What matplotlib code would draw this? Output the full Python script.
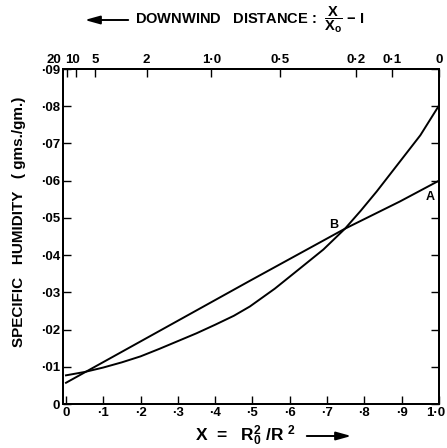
import matplotlib
matplotlib.use("Agg")
import matplotlib.pyplot as plt
from matplotlib.patches import FancyArrowPatch
import matplotlib.transforms as mtransforms

# ---- data ----
curve_x = [0.0, 0.05, 0.1, 0.15, 0.2, 0.25, 0.3, 0.35, 0.4, 0.45, 0.493, 0.56,
           0.627, 0.69, 0.748, 0.79, 0.833, 0.895, 0.95, 1.0]
curve_y = [0.0077, 0.0086, 0.0098, 0.0112, 0.0128, 0.0148, 0.0169, 0.0190, 0.0213,
           0.0237, 0.0262, 0.0310, 0.0364, 0.0415, 0.0471, 0.0519, 0.0571, 0.0651,
           0.0722, 0.0802]

line_x = [0.0, 0.493, 0.748, 0.895, 1.0]
line_y = [0.0057, 0.0331, 0.0471, 0.0544, 0.0600]

x_ticks = [0.0, 0.1, 0.2, 0.3, 0.4, 0.5, 0.6, 0.7, 0.8, 0.9, 1.0]
x_ticklabels = ["0", "·1", "·2", "·3", "·4", "·5", "·6", "·7", "·8", "·9", "1·0"]
y_ticks = [0.0, 0.01, 0.02, 0.03, 0.04, 0.05, 0.06, 0.07, 0.08, 0.09]
y_ticklabels = ["0", "·01", "·02", "·03", "·04", "·05", "·06", "·07", "·08", "·09"]

# downwind distance scale (top axis): labels and their X positions
top_labels = ["20", "10", "5", "2", "1·0", "0·5", "0·2", "0·1", "0"]
top_pos = [0.004, 0.027, 0.078, 0.216, 0.39, 0.574, 0.777, 0.874, 1.0]

plt.rcParams['font.family'] = ['Liberation Sans', 'DejaVu Sans']
plt.rcParams['mathtext.fontset'] = 'custom'
plt.rcParams['mathtext.rm'] = 'Liberation Sans:bold'
plt.rcParams['mathtext.it'] = 'Liberation Sans:bold'
plt.rcParams['mathtext.bf'] = 'Liberation Sans:bold'

fig = plt.figure(figsize=(4.47, 4.48), dpi=100)
L, R, B, T = 63, 439, 404, 69
W, H = 447, 448
ax = fig.add_axes([L / W, (H - B) / H, (R - L) / W, (B - T) / H])
ax.set_xlim(-0.008, 1.0)
ax.set_ylim(0, 0.09)

ax.plot(curve_x, curve_y, color='black', lw=1.4)
ax.plot(line_x, line_y, color='black', lw=1.4)

ax.text(0.976, 0.0557, "A", fontsize=9, fontweight='bold', ha='center', va='center')
ax.text(0.718, 0.0480, "B", fontsize=9, fontweight='bold', ha='center', va='center')

for s in ax.spines.values():
    s.set_linewidth(1.4)

tick_font = dict(fontsize=9.5, fontweight='bold')
ax.set_xticks(x_ticks)
ax.set_xticklabels(x_ticklabels, **tick_font)
ax.set_yticks(y_ticks)
ax.set_yticklabels(y_ticklabels, **tick_font)
ax.tick_params(axis='both', direction='in', length=6, width=1, pad=2)
ax.tick_params(axis='y', right=True, labelright=False)
last = ax.get_xticklabels()[-1]
last.set_transform(last.get_transform() +
                   mtransforms.ScaledTranslation(-3 / 100, 0, fig.dpi_scale_trans))

axt = ax.twiny()
axt.set_xlim(ax.get_xlim())
axt.set_xticks(top_pos)
axt.set_xticklabels([""] * 2 + top_labels[2:], **tick_font)
axt.tick_params(axis='x', direction='in', length=6, width=1, pad=2)
for s in axt.spines.values():
    s.set_linewidth(1.4)
# squeezed labels at the left of the top axis
ax.text(-0.024, 1.009, top_labels[0], transform=ax.transAxes, ha='center',
        va='bottom', **tick_font)
ax.text(0.024, 1.009, top_labels[1], transform=ax.transAxes, ha='center',
        va='bottom', **tick_font)

arrow_kw = dict(transform=fig.transFigure, color='black', lw=1.4,
                arrowstyle='-|>,head_length=0.9,head_width=0.25', mutation_scale=10)

# top title with arrow
fig.text(135 / W, 1 - 20 / H, r"DOWNWIND   DISTANCE :  $\dfrac{\mathrm{X}}{\mathrm{X_o}}$ $-$ I",
         fontsize=10.5, fontweight='bold', ha='left', va='center')
fig.add_artist(FancyArrowPatch((131 / W, 1 - 20 / H), (82 / W, 1 - 20 / H), **arrow_kw))

# x label with arrow
fig.text(195 / W, 1 - 436 / H, r"X  =   R$_0^2$ /R $^2$", fontsize=12.5,
         fontweight='bold', ha='left', va='center')
fig.add_artist(FancyArrowPatch((304 / W, 1 - 436 / H), (354 / W, 1 - 436 / H), **arrow_kw))

# y label
fig.text(19 / W, 1 - 222 / H, "SPECIFIC   HUMIDITY   ( gms./gm.)", fontsize=11,
         fontweight='bold', rotation=90, ha='center', va='center')

fig.savefig("out.png", dpi=100)
